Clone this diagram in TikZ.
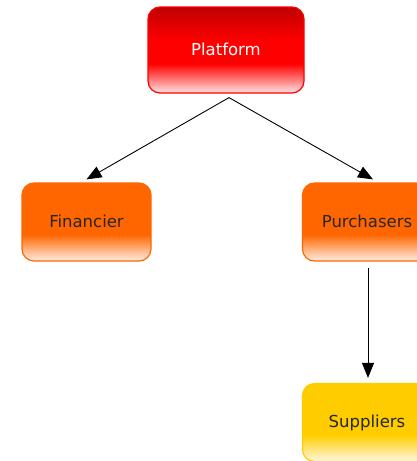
\documentclass[tikz,border=0pt]{standalone}
\usepackage{fontspec}
\setmainfont{DejaVu Sans}
\usetikzlibrary{arrows.meta}
\definecolor{redtop}{HTML}{C00000}
\definecolor{redmid}{HTML}{FF0000}
\definecolor{redlow}{HTML}{FFD6D6}
\definecolor{orangec}{HTML}{FF6600}
\definecolor{orangelow}{HTML}{FFE6D6}
\definecolor{yellowc}{HTML}{FFCC00}
\definecolor{yellowlow}{HTML}{FFF5D6}
\pgfdeclareverticalshading{redshade}{100bp}{color(0bp)=(redlow); color(26bp)=(redlow); color(42bp)=(redmid); color(55bp)=(redmid); color(75bp)=(redtop); color(100bp)=(redtop)}
\pgfdeclareverticalshading{orangeshade}{100bp}{color(0bp)=(orangelow); color(26bp)=(orangelow); color(42bp)=(orangec); color(100bp)=(orangec)}
\pgfdeclareverticalshading{yellowshade}{100bp}{color(0bp)=(yellowlow); color(26bp)=(yellowlow); color(42bp)=(yellowc); color(100bp)=(yellowc)}
\tikzset{
  box/.style={rounded corners=12pt, line width=1.2pt, font=\fontsize{16.5}{19}\selectfont, inner sep=0pt},
  redbox/.style={box, draw=redmid, shading=redshade, text=white, minimum width=156pt, minimum height=86pt},
  orangebox/.style={box, draw=orangec, shading=orangeshade, text=black!85, minimum width=129pt, minimum height=78pt},
  yellowbox/.style={box, draw=yellowc, shading=yellowshade, text=black!85, minimum width=129pt, minimum height=78pt},
  conn/.style={-{Triangle[length=15pt,width=12pt]}, line width=0.9pt, black}
}
\begin{document}
\begin{tikzpicture}[x=1pt,y=-1pt]
\useasboundingbox (0,0) rectangle (417,461);
\node[redbox] (platform) at (226,50) {\raisebox{1.5pt}{Platform}};
\node[orangebox] (financier) at (86.5,222) {\raisebox{1.5pt}{Financier}};
\node[orangebox] (purchasers) at (367,222) {\raisebox{1.5pt}{Purchasers}};
\node[yellowbox] (suppliers) at (367,422.5) {\raisebox{2.5pt}{Suppliers}};
\coordinate (pstart) at ([xshift=3pt,yshift=-4pt]platform.south);
\draw[conn] (pstart) -- ([yshift=3pt]financier.north);
\draw[conn] (pstart) -- ([xshift=6pt,yshift=3pt]purchasers.north);
\draw[conn, shorten <=6pt, shorten >=5pt] ([xshift=1pt]purchasers.south) -- ([xshift=1pt]suppliers.north);
\end{tikzpicture}
\end{document}
